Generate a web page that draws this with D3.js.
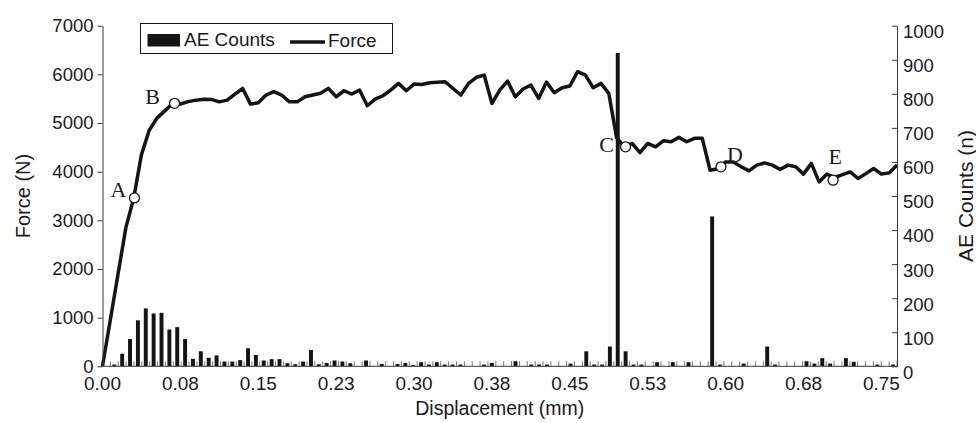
<!DOCTYPE html>
<html>
<head>
<meta charset="utf-8">
<script src="https://cdn.jsdelivr.net/npm/d3@7"></script>
<style>
  html, body { margin: 0; padding: 0; background: #fff; }
  svg { display: block; }
  text { font-family: "Liberation Sans", Arial, Helvetica, sans-serif; fill: #1a1a1a; }
  .marker-label { font-family: "Liberation Serif", "Times New Roman", serif; }
</style>
</head>
<body>
<svg id="chart" width="976" height="423"></svg>
<script>
// Load–displacement record: force (N) sampled every 0.0075 mm
const forceN = [
  0, 950, 1900, 2850, 3450, 4350, 4850, 5100, 5250, 5400,
  5390, 5440, 5470, 5490, 5485, 5435, 5470, 5595, 5710, 5388,
  5416, 5575, 5643, 5575, 5435, 5435, 5540, 5575, 5610, 5712,
  5540, 5663, 5595, 5677, 5355, 5490, 5560, 5677, 5815, 5663,
  5800, 5793, 5826, 5840, 5848, 5710, 5575, 5815, 5940, 5985,
  5402, 5677, 5862, 5540, 5700, 5780, 5505, 5843, 5622, 5725,
  5760, 6055, 5985, 5725, 5815, 5610, 4700, 4510, 4580, 4390,
  4580, 4510, 4635, 4615, 4705, 4615, 4685, 4685, 4030, 4060,
  4200, 4200, 4100, 4017, 4135, 4180, 4135, 4045, 4135, 4100,
  3950, 4170, 3790, 3950, 3880, 3940, 3995, 3860, 3960, 4065,
  3950, 3975, 4135
];

// Acoustic emission hit counts per displacement interval
const aeCounts = [
  0, 5, 37, 80, 135, 170, 155, 157, 108, 115,
  80, 22, 44, 25, 32, 14, 14, 18, 53, 33,
  17, 21, 21, 9, 6, 14, 48, 6, 10, 17,
  14, 9, 0, 17, 0, 7, 0, 7, 10, 4,
  12, 5, 12, 5, 5, 5, 0, 0, 5, 10,
  0, 0, 15, 0, 5, 5, 5, 0, 0, 8,
  0, 44, 5, 5, 58, 920, 44, 5, 5, 0,
  12, 0, 12, 0, 12, 0, 0, 440, 5, 0,
  0, 8, 0, 0, 58, 5, 0, 0, 0, 15,
  8, 24, 8, 0, 24, 13, 0, 0, 5, 0,
  5
];

// Displacement tick labels, one every tenth sample
const xTickLabels = ["0.00", "0.08", "0.15", "0.23", "0.30", "0.38", "0.45", "0.53", "0.60", "0.68", "0.75"];
const forceTicks = [0, 1000, 2000, 3000, 4000, 5000, 6000, 7000];
const aeTicks = [0, 100, 200, 300, 400, 500, 600, 700, 800, 900, 1000];

// Characteristic points on the force curve (sample position, force)
const keyLabels = ["A", "B", "C", "D", "E"];
const keyIndex = [4.1, 9.25, 67.15, 79.4, 93.8];
const keyForce = [3460, 5405, 4510, 4100, 3825];

const svg = d3.select("#chart");
const plot = { left: 102.5, right: 897, top: 25.7, bottom: 366.3 };

const xLine = d3.scaleLinear().domain([0, forceN.length - 1]).range([plot.left, plot.right]);
const xBar = d3.scaleBand().domain(d3.range(aeCounts.length)).range([plot.left, plot.right])
  .paddingInner(0.5).paddingOuter(0.25);
const yForce = d3.scaleLinear().domain([0, 7000]).range([plot.bottom, plot.top]);
const yAE = d3.scaleLinear().domain([0, 1000]).range([plot.bottom, plot.top]);

const axisColor = "#3a3a3a";
const ink = "#141414";
const plain = d3.format("d");

// Minor category ticks along the displacement axis
const step = xBar.step();
const tickXs = d3.range(aeCounts.length + 1).map(k => plot.left + k * step);
svg.append("g").selectAll("line").data(tickXs).join("line")
  .attr("x1", d => d).attr("x2", d => d)
  .attr("y1", plot.bottom).attr("y2", plot.bottom - 5)
  .attr("stroke", "#777").attr("stroke-width", 1);

// AE count bars
svg.append("g").selectAll("rect").data(aeCounts).join("rect")
  .attr("x", (d, i) => xBar(i))
  .attr("width", xBar.bandwidth())
  .attr("y", d => yAE(d))
  .attr("height", d => yAE(0) - yAE(d))
  .attr("fill", ink);

// Force curve
const line = d3.line().x((d, i) => xLine(i)).y(d => yForce(d));
svg.append("path").datum(forceN)
  .attr("d", line)
  .attr("fill", "none")
  .attr("stroke", ink)
  .attr("stroke-width", 3.5)
  .attr("stroke-linejoin", "round");

// Left axis (force)
const gLeft = svg.append("g").attr("transform", `translate(${plot.left},0)`)
  .call(d3.axisLeft(yForce).tickValues(forceTicks).tickFormat(plain)
    .tickSizeInner(5).tickSizeOuter(0).tickPadding(4));
gLeft.select(".domain").attr("stroke", axisColor);
gLeft.selectAll(".tick line").attr("stroke", axisColor);
gLeft.selectAll("text").style("font-size", "18.5px").attr("fill", "#1a1a1a");

// Right axis (AE counts), ticks pointing inward
const gRight = svg.append("g").attr("transform", `translate(${plot.right},0)`)
  .call(d3.axisRight(yAE).tickValues(aeTicks).tickFormat(plain)
    .tickSizeInner(-5).tickSizeOuter(0).tickPadding(6));
gRight.select(".domain").attr("stroke", axisColor);
gRight.selectAll(".tick line").attr("stroke", axisColor);
gRight.selectAll("text").style("font-size", "18.5px").attr("y", 6).attr("fill", "#1a1a1a");

// Bottom axis baseline and labels
svg.append("line")
  .attr("x1", plot.left).attr("x2", plot.right)
  .attr("y1", plot.bottom).attr("y2", plot.bottom)
  .attr("stroke", axisColor);
svg.append("g").selectAll("text").data(xTickLabels).join("text")
  .attr("x", (d, i) => xLine(i * 10))
  .attr("y", plot.bottom + 17)
  .attr("text-anchor", "middle")
  .attr("dominant-baseline", "central")
  .style("font-size", "19px")
  .text(d => d);

// Axis titles
svg.append("text")
  .attr("transform", `translate(23,${(plot.top + plot.bottom) / 2}) rotate(-90)`)
  .attr("text-anchor", "middle").attr("dominant-baseline", "central")
  .style("font-size", "20px").text("Force (N)");
svg.append("text")
  .attr("transform", `translate(965,${(plot.top + plot.bottom) / 2}) rotate(-90)`)
  .attr("text-anchor", "middle").attr("dominant-baseline", "central")
  .style("font-size", "21px").text("AE Counts (n)");
svg.append("text")
  .attr("x", (plot.left + plot.right) / 2).attr("y", 415)
  .attr("text-anchor", "middle")
  .style("font-size", "19.5px").text("Displacement (mm)");

// Characteristic point markers and their letters
const labelShift = { A: [-16, -8], B: [-22, -7], C: [-19, -2], D: [14, -12], E: [2, -24] };
const keys = keyLabels.map((k, i) => ({ k, i: keyIndex[i], f: keyForce[i] }));
const gKeys = svg.append("g");
gKeys.selectAll("circle").data(keys).join("circle")
  .attr("cx", d => xLine(d.i)).attr("cy", d => yForce(d.f))
  .attr("r", 5).attr("fill", "#fff").attr("stroke", ink).attr("stroke-width", 1.3);
gKeys.selectAll("text").data(keys).join("text")
  .attr("class", "marker-label")
  .attr("x", d => xLine(d.i) + labelShift[d.k][0])
  .attr("y", d => yForce(d.f) + labelShift[d.k][1])
  .attr("text-anchor", "middle").attr("dominant-baseline", "central")
  .style("font-size", "22px").text(d => d.k);

// Legend
const lg = svg.append("g");
lg.append("rect").attr("x", 140.5).attr("y", 23.5).attr("width", 252).attr("height", 30)
  .attr("fill", "#fff").attr("stroke", ink).attr("stroke-width", 1);
lg.append("rect").attr("x", 147.5).attr("y", 34).attr("width", 32.5).attr("height", 12.5).attr("fill", ink);
lg.append("text").attr("x", 184).attr("y", 39.5).attr("dominant-baseline", "central")
  .style("font-size", "19px").text("AE Counts");
lg.append("line").attr("x1", 290).attr("x2", 325).attr("y1", 42).attr("y2", 42)
  .attr("stroke", ink).attr("stroke-width", 3.5);
lg.append("text").attr("x", 328).attr("y", 40.5).attr("dominant-baseline", "central")
  .style("font-size", "19px").text("Force");
</script>
</body>
</html>
